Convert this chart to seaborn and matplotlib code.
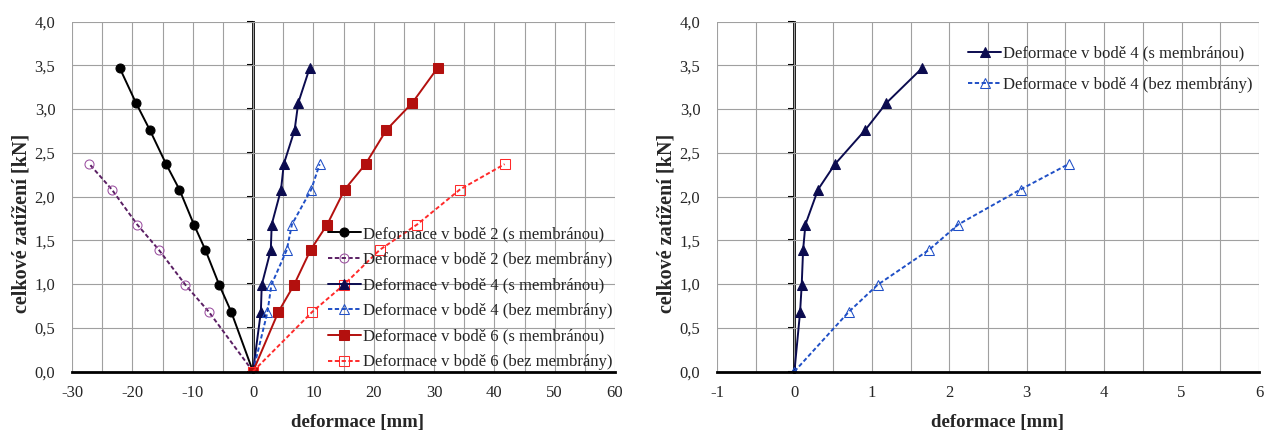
import numpy as np
import pandas as pd
import matplotlib
matplotlib.use("Agg")
import matplotlib.pyplot as plt
import matplotlib.ticker as mticker
import seaborn as sns

# ---------------- data ----------------
load_s = [0.0, 0.68, 0.99, 1.39, 1.68, 2.08, 2.37, 2.76, 3.07, 3.47]
load_bez = [0.0, 0.68, 0.99, 1.39, 1.68, 2.08, 2.37]

# left chart (deformace [mm])
b2_s = [0.0, -3.6, -5.6, -7.9, -9.8, -12.2, -14.4, -17.1, -19.4, -22.1]
b2_bez = [0.0, -7.3, -11.2, -15.6, -19.2, -23.4, -27.1]
b4_s = [0.0, 1.3, 1.45, 2.95, 3.1, 4.65, 5.1, 6.9, 7.5, 9.4]
b4_bez = [0.0, 2.4, 3.05, 5.6, 6.45, 9.65, 11.05]
b6_s = [0.0, 4.2, 6.8, 9.55, 12.3, 15.2, 18.65, 22.1, 26.4, 30.6]
b6_bez = [0.0, 9.8, 15.05, 21.0, 27.2, 34.3, 41.7]

# right chart (deformace [mm])
r4_s = [0.0, 0.073, 0.094, 0.112, 0.142, 0.305, 0.524, 0.914, 1.189, 1.652]
r4_bez = [0.0, 0.70, 1.073, 1.738, 2.116, 2.92, 3.54]

labels = [
    "Deformace v bodě 2 (s membránou)",
    "Deformace v bodě 2 (bez membrány)",
    "Deformace v bodě 4 (s membránou)",
    "Deformace v bodě 4 (bez membrány)",
    "Deformace v bodě 6 (s membránou)",
    "Deformace v bodě 6 (bez membrány)",
]
xlabel = "deformace [mm]"
ylabel = "celkové zatížení [kN]"

# ---------------- style ----------------
sns.set_style("white")
plt.rcParams["font.family"] = ["Liberation Serif", "DejaVu Serif"]
plt.rcParams["font.size"] = 12

fig = plt.figure(figsize=(12.64, 4.34), dpi=100)
H = 434.0
W = 1264.0
axL = fig.add_axes([72 / W, (H - 371.5) / H, (615 - 72) / W, (371.5 - 21.5) / H])
axR = fig.add_axes([717 / W, (H - 371.5) / H, (1259 - 717) / W, (371.5 - 21.5) / H])

dash = (0, (2.2, 1.3))
styles = [
    dict(color="black", marker="o", linestyle="-", markersize=6.5,
         markerfacecolor="black", markeredgecolor="black"),
    dict(color="#5a1f63", marker="o", linestyle=dash, markersize=6.5,
         markerfacecolor="none", markeredgecolor="#9b4fa0"),
    dict(color="#0b0b4f", marker="^", linestyle="-", markersize=7,
         markerfacecolor="#0b0b4f", markeredgecolor="#0b0b4f"),
    dict(color="#1f4fc6", marker="^", linestyle=dash, markersize=7,
         markerfacecolor="none", markeredgecolor="#1f4fc6"),
    dict(color="#b3100e", marker="s", linestyle="-", markersize=6.5,
         markerfacecolor="#b3100e", markeredgecolor="#b3100e"),
    dict(color="#ff2a2a", marker="s", linestyle=dash, markersize=6.5,
         markerfacecolor="none", markeredgecolor="#ff2a2a"),
]

left_series = [(b2_s, load_s), (b2_bez, load_bez), (b4_s, load_s),
               (b4_bez, load_bez), (b6_s, load_s), (b6_bez, load_bez)]

for (xs, ys), st, lab in zip(left_series, styles, labels):
    df = pd.DataFrame({"x": xs, "y": ys})
    sns.lineplot(data=df, x="x", y="y", sort=False, estimator=None, ax=axL,
                 label=lab, linewidth=1.4, zorder=3, **st)

for (xs, ys), st, lab in zip([(r4_s, load_s), (r4_bez, load_bez)],
                             [styles[2], styles[3]], [labels[2], labels[3]]):
    df = pd.DataFrame({"x": xs, "y": ys})
    sns.lineplot(data=df, x="x", y="y", sort=False, estimator=None, ax=axR,
                 label=lab, linewidth=1.4, zorder=3, **st)

comma = mticker.FuncFormatter(lambda v, p: f"{v:.1f}".replace(".", ","))
intfmt = mticker.FuncFormatter(lambda v, p: f"{v:.0f}")


def setup(ax, xlim, xmajor, xminor, ypad, xlab_x):
    ax.set_xlim(*xlim)
    ax.set_ylim(0, 4.0)
    ax.xaxis.set_major_locator(mticker.MultipleLocator(xmajor))
    ax.xaxis.set_minor_locator(mticker.MultipleLocator(xminor))
    ax.yaxis.set_major_locator(mticker.MultipleLocator(0.5))
    ax.yaxis.set_major_formatter(comma)
    ax.xaxis.set_major_formatter(intfmt)
    ax.grid(True, which="both", axis="x", color="#a0a0a0", linewidth=0.8)
    ax.grid(True, which="major", axis="y", color="#a0a0a0", linewidth=0.8)
    for s in ["top", "right", "left"]:
        ax.spines[s].set_visible(False)
    ax.spines["bottom"].set_color("black")
    ax.spines["bottom"].set_linewidth(2.0)
    ax.spines["bottom"].set_zorder(4)
    ax.tick_params(axis="x", which="major", direction="out", length=4.5,
                   width=1.5, color="black", pad=5, labelsize=12)
    ax.tick_params(axis="x", which="minor", length=0)
    ax.tick_params(axis="y", which="both", length=0, pad=ypad, labelsize=12)
    ax.set_xlabel(xlabel, fontsize=13.5, fontweight="bold")
    ax.xaxis.set_label_coords(xlab_x, -0.122)
    yl = ax.set_ylabel(ylabel, fontsize=14.5, fontweight="bold")
    yl.set_rotation_mode("default")
    yl.set_va("center")
    yl.set_ha("center")
    ax.yaxis.set_label_coords(-0.0927, 0.424)
    # vertical axis crossing at x = 0
    loc = (0 - xlim[0]) / (xlim[1] - xlim[0])
    sec = ax.secondary_yaxis(loc)
    sec.spines["left"].set_linewidth(2.0)
    sec.spines["left"].set_color("black")
    sec.yaxis.set_major_locator(mticker.MultipleLocator(0.5))
    sec.tick_params(axis="y", direction="out", length=4.5, width=1.5,
                    color="black", labelleft=False)
    for lab in sec.get_yticklabels():
        lab.set_visible(False)


setup(axL, (-30, 60), 10, 5, 12, 0.526)
setup(axR, (-1, 6), 1, 0.5, 12, 0.518)

legL = axL.legend(loc="upper left", bbox_to_anchor=(0.465, 0.425), frameon=False,
                  fontsize=12, handlelength=2.0, handletextpad=0.1,
                  labelspacing=0.58, borderpad=0.2, borderaxespad=0)
legR = axR.legend(loc="upper left", bbox_to_anchor=(0.457, 0.94), frameon=False,
                  fontsize=12, handlelength=2.0, handletextpad=0.1,
                  labelspacing=0.9, borderpad=0.2, borderaxespad=0)
for leg in (legL, legR):
    leg.set_zorder(5)

fig.savefig("out.png", dpi=100)
